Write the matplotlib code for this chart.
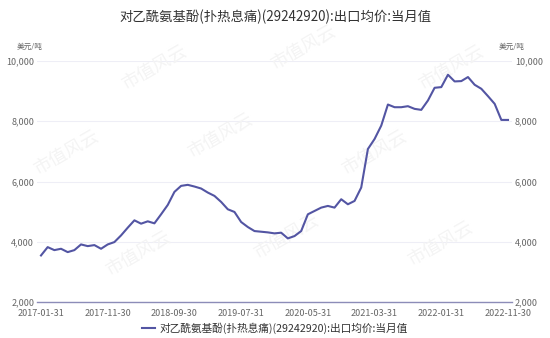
import numpy as np
import matplotlib
matplotlib.use('Agg')
import matplotlib.pyplot as plt

plt.rcParams['font.family'] = ['Noto Sans CJK SC', 'DejaVu Sans']

title = '对乙酰氨基酚(扑热息痛)(29242920):出口均价:当月值'
unit = '美元/吨'
tick_labels = ['2017-01-31', '2017-11-30', '2018-09-30', '2019-07-31',
               '2020-05-31', '2021-03-31', '2022-01-31', '2022-11-30']
y_ticks = [2000, 4000, 6000, 8000, 10000]

# monthly export price, 2017-01 .. 2022-11
price = [3545, 3822, 3722, 3767, 3656, 3722, 3911, 3855, 3889, 3767,
         3911, 3989, 4211, 4467, 4711, 4600, 4678, 4611, 4911, 5222,
         5655, 5855, 5889, 5833, 5767, 5633, 5522, 5322, 5078, 4989,
         4655, 4489, 4355, 4333, 4311, 4278, 4300, 4111, 4189, 4355,
         4911, 5022, 5133, 5189, 5133, 5411, 5244, 5355, 5800, 7078,
         7411, 7855, 8555, 8466, 8466, 8500, 8411, 8378, 8689, 9111,
         9133, 9544, 9322, 9333, 9467, 9211, 9078, 8833, 8578, 8044,
         8044]

x = np.arange(len(price))

fig = plt.figure(figsize=(5.5, 3.38), dpi=100)
ax = fig.add_axes([37/550, 1-302/338, (512-37)/550, (302-61)/338])

# faint watermark, kept under the line
for wx, wy in [(0.28, 0.80), (0.55, 0.86), (0.82, 0.80),
               (0.12, 0.55), (0.40, 0.60), (0.68, 0.55),
               (0.25, 0.25), (0.52, 0.30), (0.80, 0.28)]:
    ax.text(wx, wy, '市值风云', rotation=30, fontsize=13, color='#f4f4f4',
            ha='center', va='center', zorder=1, transform=fig.transFigure)

ax.plot(x, price, color='#5355a3', lw=1.5, zorder=3, label=title)

ax.set_xlim(-0.6, len(price) - 1 + 0.6)
ax.set_ylim(2000, 10000)
ax.set_yticks(y_ticks)
ax.set_yticklabels([f'{v:,}' for v in y_ticks])
ax.set_xticks(x[::10])
ax.set_xticklabels(tick_labels)
ax.grid(axis='y', color='#eeeef6', lw=0.8, zorder=0)
ax.set_axisbelow(True)
for s in ['top', 'right', 'left']:
    ax.spines[s].set_visible(False)
ax.spines['bottom'].set_color('#8c8cb8')
ax.spines['bottom'].set_linewidth(1)
ax.tick_params(axis='both', length=0, labelsize=6.5, colors='#666666')
ax.tick_params(axis='x', pad=5)
ax.tick_params(axis='y', pad=2, labelright=True)

fig.text(0.5, 1-17/338, title, ha='center', va='center', fontsize=9.6, color='#333333')
fig.text(30/550, 1-47/338, unit, ha='center', va='center', fontsize=5.5, color='#666666')
fig.text(512/550, 1-47/338, unit, ha='center', va='center', fontsize=5.5, color='#666666')

fig.legend(loc='center', bbox_to_anchor=(0.5, 1-328/338), frameon=False,
           fontsize=7.7, handlelength=1.2, handletextpad=0.4, labelcolor='#333333')

fig.savefig('out.png', dpi=100)
